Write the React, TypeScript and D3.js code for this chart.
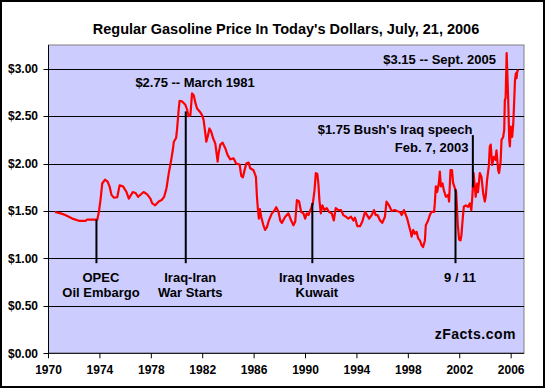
import React from "react";
import * as d3 from "d3";

const years = [
  1970.5, 1970.95, 1971.3, 1971.85, 1972.37, 1972.9, 1973.0, 1973.8, 1973.92, 1974.05,
  1974.18, 1974.4, 1974.6, 1974.75, 1974.9, 1975.1, 1975.35, 1975.53, 1975.8, 1976.07,
  1976.25, 1976.56, 1976.77, 1976.98, 1977.4, 1977.68, 1977.93, 1978.07, 1978.3, 1978.58,
  1978.8, 1979.0, 1979.18, 1979.36, 1979.5, 1979.67, 1979.75, 1979.93, 1980.0, 1980.13,
  1980.2, 1980.4, 1980.65, 1980.78, 1980.9, 1981.04, 1981.17, 1981.3, 1981.43, 1981.56,
  1981.76, 1981.95, 1982.07, 1982.2, 1982.28, 1982.38, 1982.52, 1982.65, 1982.8, 1982.98,
  1983.16, 1983.24, 1983.37, 1983.55, 1983.76, 1983.94, 1984.15, 1984.4, 1984.6, 1984.87,
  1985.0, 1985.13, 1985.23, 1985.39, 1985.57, 1985.7, 1985.95, 1986.14, 1986.22, 1986.3,
  1986.37, 1986.45, 1986.55, 1986.7, 1986.85, 1987.0, 1987.12, 1987.38, 1987.55, 1987.72,
  1987.9, 1988.03, 1988.16, 1988.42, 1988.67, 1988.88, 1989.06, 1989.2, 1989.33, 1989.5,
  1989.66, 1989.84, 1989.97, 1990.1, 1990.23, 1990.44, 1990.57, 1990.7, 1990.8, 1990.92,
  1991.0, 1991.08, 1991.19, 1991.31, 1991.47, 1991.65, 1991.83, 1992.04, 1992.2, 1992.35,
  1992.56, 1992.76, 1992.94, 1993.13, 1993.33, 1993.54, 1993.72, 1993.85, 1994.03, 1994.24,
  1994.42, 1994.63, 1994.79, 1994.95, 1995.15, 1995.33, 1995.46, 1995.6, 1995.8, 1995.97,
  1996.18, 1996.3, 1996.5, 1996.7, 1996.95, 1997.1, 1997.35, 1997.48, 1997.66, 1997.81,
  1997.91, 1998.04, 1998.18, 1998.25, 1998.38, 1998.5, 1998.64, 1998.77, 1998.9, 1999.03,
  1999.15, 1999.29, 1999.36, 1999.54, 1999.67, 1999.8, 2000.0, 2000.06, 2000.14, 2000.24,
  2000.37, 2000.45, 2000.53, 2000.66, 2000.76, 2000.92, 2001.1, 2001.17, 2001.28, 2001.4,
  2001.48, 2001.6, 2001.72, 2001.85, 2001.95, 2002.06, 2002.13, 2002.22, 2002.32, 2002.47,
  2002.65, 2002.78, 2002.9, 2002.98, 2003.08, 2003.17, 2003.24, 2003.35, 2003.42, 2003.56,
  2003.69, 2003.82, 2003.95, 2004.02, 2004.13, 2004.26, 2004.34, 2004.41, 2004.52, 2004.65,
  2004.78, 2004.86, 2004.99, 2005.06, 2005.18, 2005.25, 2005.38, 2005.46, 2005.51, 2005.57,
  2005.65, 2005.72, 2005.77, 2005.85, 2005.9, 2005.98, 2006.08, 2006.16, 2006.24, 2006.3,
  2006.37, 2006.42, 2006.47, 2006.55,
];

const prices = [
  1.49, 1.475, 1.457, 1.42, 1.397, 1.397, 1.41, 1.41, 1.49, 1.62,
  1.79, 1.83, 1.81, 1.76, 1.67, 1.64, 1.645, 1.77, 1.76, 1.7,
  1.63, 1.7, 1.69, 1.65, 1.7, 1.675, 1.63, 1.58, 1.56, 1.6,
  1.615, 1.65, 1.74, 1.9, 2.0, 2.14, 2.23, 2.27, 2.355, 2.57,
  2.66, 2.655, 2.62, 2.57, 2.5, 2.51, 2.74, 2.72, 2.64, 2.58,
  2.55, 2.51, 2.46, 2.32, 2.23, 2.28, 2.37, 2.34, 2.27, 2.21,
  2.02, 2.11, 2.2, 2.22, 2.16, 2.09, 2.045, 2.055, 2.0, 1.99,
  1.87, 1.855, 1.915, 2.0, 2.01, 1.95, 1.93, 1.86, 1.65, 1.51,
  1.42, 1.52, 1.44, 1.36, 1.3, 1.33, 1.39, 1.475, 1.5, 1.54,
  1.49, 1.4, 1.375, 1.44, 1.475, 1.4, 1.35, 1.39, 1.615, 1.6,
  1.49, 1.475, 1.42, 1.475, 1.457, 1.53, 1.58, 1.72, 1.9, 1.89,
  1.79, 1.615, 1.475, 1.56, 1.51, 1.53, 1.49, 1.475, 1.4, 1.53,
  1.51, 1.51, 1.457, 1.44, 1.42, 1.44, 1.4, 1.43, 1.34, 1.34,
  1.39, 1.49, 1.457, 1.42, 1.457, 1.51, 1.457, 1.457, 1.4, 1.375,
  1.44, 1.6, 1.56, 1.5, 1.51, 1.5, 1.49, 1.457, 1.51, 1.457,
  1.42, 1.35, 1.28, 1.23, 1.3, 1.26, 1.28, 1.21, 1.19, 1.14,
  1.12, 1.19, 1.35, 1.4, 1.457, 1.49, 1.49, 1.58, 1.76, 1.7,
  1.79, 1.915, 1.76, 1.79, 1.72, 1.65, 1.67, 1.6, 1.93, 1.93,
  1.8, 1.75, 1.7, 1.35, 1.2, 1.19, 1.245, 1.4, 1.545, 1.56,
  1.545, 1.58, 1.51, 1.65, 1.9, 1.76, 1.65, 1.79, 1.7, 1.9,
  1.86, 1.69, 1.6, 1.65, 1.83, 1.97, 2.18, 2.2, 1.985, 2.07,
  2.04, 2.14, 1.93, 1.9, 2.02, 2.25, 2.28, 2.355, 2.67, 2.69,
  3.165, 2.88, 2.67, 2.25, 2.18, 2.39, 2.28, 2.41, 2.67, 2.88,
  2.95, 2.9, 2.97, 2.99,
];

const yTicks = [0, 0.5, 1.0, 1.5, 2.0, 2.5, 3.0];
const xTickYears = [1970, 1974, 1978, 1982, 1986, 1990, 1994, 1998, 2002, 2006];

const eventYears = [1973.73, 1980.68, 1990.53, 2001.67];
const eventTops = [1.41, 2.55, 1.585, 1.73];
const eventBottom = 0.95;
const eventLabels = [
  ["OPEC", "Oil Embargo"],
  ["Iraq-Iran", "War Starts"],
  ["Iraq Invades", "Kuwait"],
  ["9 / 11"],
];

const bushYear = 2003.02;
const bushFrom = 1.75;
const bushTo = 2.3;

const title = "Regular Gasoline Price In Today's Dollars, July, 21, 2006";
const peak1981 = "$2.75 -- March 1981";
const peak2005 = "$3.15 -- Sept. 2005";
const bushLines = ["$1.75 Bush's Iraq speech", "Feb. 7, 2003"];
const credit = "zFacts.com";

const W = 545;
const H = 388;
const L = 48.5;
const R = 524;
const T = 45;
const B = 353.3;
const FONT = "'Liberation Sans', Arial, sans-serif";

export default function App() {
  const x = d3.scaleLinear().domain([1970, 2007]).range([L, R]);
  const y = d3.scaleLinear().domain([0, 3.25]).range([B, T]);
  const fmt = d3.format("$.2f");
  const data = years.map((yr, i) => [yr, prices[i]] as [number, number]);
  const line = d3
    .line<[number, number]>()
    .x((d) => x(d[0]))
    .y((d) => y(d[1]));

  return (
    <svg
      width={W}
      height={H}
      style={{ position: "absolute", left: 0, top: 0, background: "#fff" }}
      fontFamily={FONT}
      fontWeight="bold"
    >
      <rect x={1} y={1} width={W - 2} height={H - 2} fill="#fff" stroke="#000" strokeWidth={2} />
      <text x={286} y={33.5} textAnchor="middle" fontSize={14.5}>
        {title}
      </text>
      <rect x={L} y={T} width={R - L} height={B - T} fill="#CCCCFF" stroke="#808080" strokeWidth={1} />
      {yTicks.filter((t) => t > 0).map((t) => (
        <line key={t} x1={L} x2={R} y1={Math.round(y(t)) + 0.5} y2={Math.round(y(t)) + 0.5} stroke="#000" strokeWidth={1} />
      ))}
      <line x1={L} x2={L} y1={T} y2={B} stroke="#000" strokeWidth={1} />
      <line x1={L} x2={R} y1={B} y2={B} stroke="#000" strokeWidth={1} />
      {yTicks.map((t) => (
        <g key={"yt" + t}>
          <line x1={L - 5} x2={L} y1={Math.round(y(t)) + 0.5} y2={Math.round(y(t)) + 0.5} stroke="#000" />
          <text x={38} y={y(t) + 4.2} textAnchor="end" fontSize={12}>
            {fmt(t)}
          </text>
        </g>
      ))}
      {xTickYears.map((t) => (
        <g key={"xt" + t}>
          <line x1={x(t)} x2={x(t)} y1={B} y2={B + 5} stroke="#000" />
          <text x={x(t)} y={374} textAnchor="middle" fontSize={12}>
            {t}
          </text>
        </g>
      ))}
      <path d={line(data) || ""} fill="none" stroke="#FF0000" strokeWidth={2.2} strokeLinejoin="round" />
      {eventYears.map((ey, i) => (
        <g key={"ev" + i}>
          <line x1={x(ey)} x2={x(ey)} y1={y(eventBottom)} y2={y(eventTops[i])} stroke="#000" strokeWidth={2} />
          {eventLabels[i].map((s, j) => (
            <text key={j} x={x(ey) + 4.5} y={281.5 + j * 15.5} textAnchor="middle" fontSize={13}>
              {s}
            </text>
          ))}
        </g>
      ))}
      <line x1={x(bushYear)} x2={x(bushYear)} y1={y(bushFrom)} y2={y(bushTo)} stroke="#000" strokeWidth={2} />
      <text x={472.5} y={134} textAnchor="end" fontSize={13}>
        {bushLines[0]}
      </text>
      <text x={468.5} y={151.5} textAnchor="end" fontSize={13}>
        {bushLines[1]}
      </text>
      <text x={195} y={87.3} textAnchor="middle" fontSize={13}>
        {peak1981}
      </text>
      <text x={496} y={64.3} textAnchor="end" fontSize={13}>
        {peak2005}
      </text>
      <text x={516} y={339} textAnchor="end" fontSize={14} letterSpacing={0.5}>
        {credit}
      </text>
    </svg>
  );
}
